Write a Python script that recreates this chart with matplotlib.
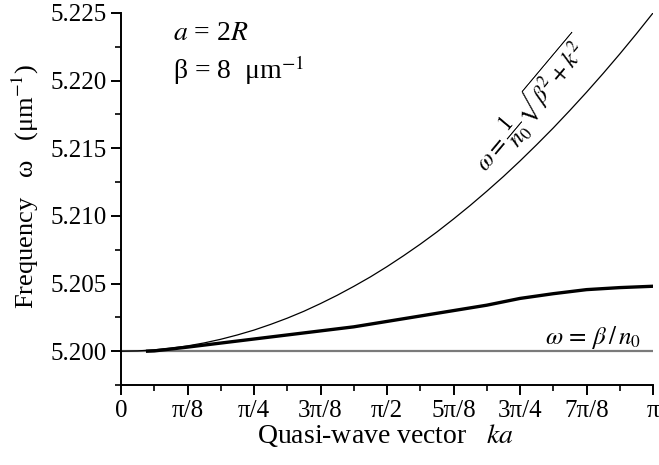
import numpy as np
import matplotlib
matplotlib.use("Agg")
import matplotlib.pyplot as plt
from matplotlib.ticker import MultipleLocator, FormatStrFormatter

plt.rcParams['font.family'] = ['Liberation Serif', 'DejaVu Serif']
plt.rcParams['mathtext.fontset'] = 'stix'

# ka in units of pi
light_ka = [j / 32 for j in range(33)]
light_w = [5.20000, 5.20002, 5.20010, 5.20022, 5.20039, 5.20061, 5.20088, 5.20120,
           5.20156, 5.20198, 5.20244, 5.20295, 5.20352, 5.20413, 5.20479, 5.20549,
           5.20625, 5.20706, 5.20791, 5.20881, 5.20977, 5.21077, 5.21182, 5.21291,
           5.21406, 5.21526, 5.21650, 5.21780, 5.21914, 5.22053, 5.22197, 5.22346,
           5.22500]

band_ka = [0.05, 1/16, 2/16, 3/16, 4/16, 5/16, 6/16, 7/16, 8/16, 9/16,
           10/16, 11/16, 12/16, 13/16, 14/16, 15/16, 1.0]
band_w = [5.2000, 5.20002, 5.2003, 5.2006, 5.2009, 5.2012, 5.2015, 5.2018, 5.2022,
          5.2026, 5.2030, 5.2034, 5.2039, 5.20425, 5.20455, 5.2047, 5.2048]

beta_line = 5.200

tick_pos = [j / 8 for j in range(9)]
tick_lab = ['0', 'π/8', 'π/4', '3π/8', 'π/2', '5π/8', '3π/4', '7π/8', 'π']

fig = plt.figure(figsize=(6.59, 4.65), dpi=100)
ax = fig.add_axes([121 / 659, 80 / 465, 532 / 659, 372 / 465])

ax.axhline(beta_line, color='#7a7a7a', lw=1.6)
ax.plot(np.array(light_ka) * np.pi, light_w, color='black', lw=0.9)
ax.plot(np.array(band_ka) * np.pi, band_w, color='black', lw=2.4)

ax.set_xlim(0, np.pi)
ax.set_ylim(5.1975, 5.225)
ax.set_xticks(np.array(tick_pos) * np.pi)
ax.set_xticklabels(tick_lab)
ax.xaxis.set_minor_locator(MultipleLocator(np.pi / 16))
ax.yaxis.set_major_locator(MultipleLocator(0.005))
ax.yaxis.set_minor_locator(MultipleLocator(0.0025))
ax.yaxis.set_major_formatter(FormatStrFormatter('%.3f'))

for s in ['top', 'right']:
    ax.spines[s].set_visible(False)
for s in ['left', 'bottom']:
    ax.spines[s].set_linewidth(1.4)
ax.tick_params(which='major', length=7, width=1.4, labelsize=18, direction='out')
ax.tick_params(which='minor', length=4, width=1.2, direction='out')

ax.set_xlabel('Quasi-wave vector   $\\it{ka}$', fontsize=20)
ax.xaxis.set_label_coords(0.498, -0.10)
ax.set_ylabel('Frequency   ω   (μm$^{-1}$)', fontsize=19)
ax.yaxis.set_label_coords(-0.15, 0.532)

ax.text(0.097, 0.946, '$\\it{a}$ = 2$\\it{R}$', transform=ax.transAxes,
        fontsize=20, va='center')
ax.text(0.097, 0.847, 'β = 8  μm$^{-1}$', transform=ax.transAxes,
        fontsize=20, va='center')
ax.text(0.775, 0.75, r'$\omega = \dfrac{1}{n_0}\sqrt{\beta^2 + k^2}$',
        transform=ax.transAxes, fontsize=17, rotation=50,
        ha='center', va='center')
ax.text(0.978, 0.129, r'$\omega\, =\, \beta\,/\,n_0$', transform=ax.transAxes,
        fontsize=18, ha='right', va='center')

fig.savefig('out.png', dpi=100)
